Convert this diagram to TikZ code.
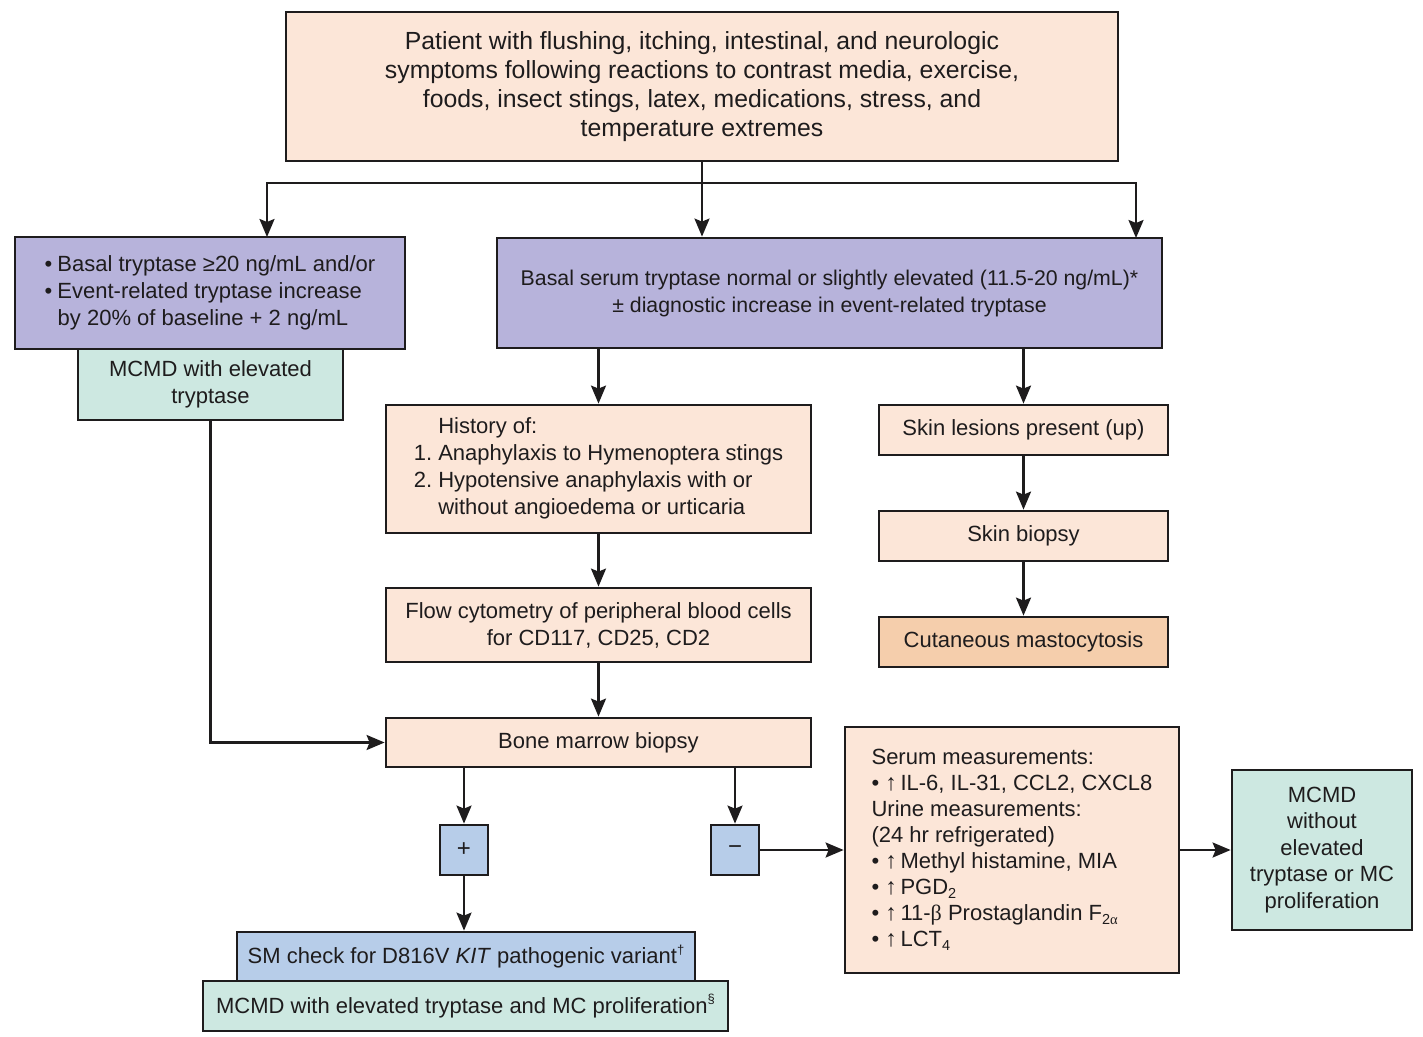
\documentclass[tikz,border=0pt]{standalone}
\usepackage{fontspec}
\setmainfont{Liberation Sans}
\newfontfamily\grk{Liberation Serif}
\usetikzlibrary{arrows.meta}
\definecolor{peach}{RGB}{252,230,216}
\definecolor{lav}{RGB}{183,179,219}
\definecolor{mint}{RGB}{205,232,225}
\definecolor{sky}{RGB}{183,205,233}
\definecolor{tan}{RGB}{245,206,172}
\definecolor{ink}{RGB}{30,28,29}
\newcommand{\mysub}[1]{\raisebox{-0.35ex}{\fontsize{14.5}{14.5}\selectfont #1}}
\newcommand{\mysup}[1]{\raisebox{0.85ex}{\fontsize{13}{13}\selectfont #1}}
\newcommand{\upar}{{\grk\fontsize{23}{26}\selectfont ↑}}
\tikzset{
  box/.style={draw=ink, line width=2.8pt, inner sep=0pt, align=center, text=ink,
    font=\fontsize{22}{27}\selectfont},
  sign/.style={box, fill=sky, minimum width=48pt, minimum height=50pt, font=\fontsize{24}{26}\selectfont},
  arr/.style={draw=ink, line width=2.3pt, -{Stealth[length=18pt,width=15pt,inset=3pt]}},
}
\begin{document}
\begin{tikzpicture}[x=1pt,y=-1pt]
\useasboundingbox (0,0) rectangle (1423,1036);
\fill[white] (0,0) rectangle (1423,1036);

\node[box, fill=peach, minimum width=832pt, minimum height=149pt, font=\fontsize{24.8}{29}\selectfont] (top) at (702,86.5)
 {Patient with flushing, itching, intestinal, and neurologic\\
  symptoms following reactions to contrast media, exercise,\\
  foods, insect stings, latex, medications, stress, and\\
  temperature extremes};

\node[box, fill=lav, minimum width=390pt, minimum height=112pt] (lp) at (210,293)
 {\begin{tabular}{@{}l@{\hspace{5pt}}l@{}}
  • & Basal tryptase ≥20 ng/mL and/or\\
  • & Event-related tryptase increase\\
  \multicolumn{2}{@{}l@{}}{\hspace{13pt}by 20\% of baseline + 2 ng/mL}
  \end{tabular}};

\node[box, fill=mint, minimum width=265pt, minimum height=71pt] (lg) at (210.5,384.5)
 {MCMD with elevated\\tryptase};

\node[box, fill=lav, minimum width=665pt, minimum height=110pt, font=\fontsize{21.3}{27}\selectfont] (bp) at (829.5,293)
 {Basal serum tryptase normal or slightly elevated (11.5-20 ng/mL)*\\
  ± diagnostic increase in event-related tryptase};

\node[box, fill=peach, minimum width=425pt, minimum height=128pt] (hist) at (598.5,469)
 {\begin{tabular}{@{}r@{\ }l@{}}
  & History of:\\
  1. & Anaphylaxis to Hymenoptera stings\\
  2. & Hypotensive anaphylaxis with or\\
  & without angioedema or urticaria
  \end{tabular}};

\node[box, fill=peach, minimum width=425pt, minimum height=74pt] (flow) at (598.5,625)
 {Flow cytometry of peripheral blood cells\\for CD117, CD25, CD2};

\node[box, fill=peach, minimum width=425pt, minimum height=49pt] (bone) at (598.5,742.5)
 {Bone marrow biopsy};

\node[box, fill=peach, minimum width=289pt, minimum height=50pt] (skin1) at (1023.5,430)
 {Skin lesions present (up)};
\node[box, fill=peach, minimum width=289pt, minimum height=50pt] (skin2) at (1023.5,536)
 {Skin biopsy};
\node[box, fill=tan, minimum width=289pt, minimum height=50pt] (cut) at (1023.5,642)
 {Cutaneous mastocytosis};

\node[sign] (plus) at (464,850) {+};
\node[sign] (minus) at (735,850) {−};

\node[box, fill=sky, minimum width=458pt, minimum height=49pt] (sm) at (466,956.5)
 {SM check for D816V \textit{KIT} pathogenic variant\mysup{†}};
\node[box, fill=mint, minimum width=525pt, minimum height=50pt] (mcb) at (465.5,1006)
 {MCMD with elevated tryptase and MC proliferation\mysup{§}};

\node[box, fill=peach, minimum width=334pt, minimum height=246pt, align=left, font=\fontsize{22}{26}\selectfont] (serum) at (1012,850)
 {Serum measurements:\\
  • \upar\,IL-6, IL-31, CCL2, CXCL8\\
  Urine measurements:\\
  (24 hr refrigerated)\\
  • \upar\,Methyl histamine, MIA\\
  • \upar\,PGD\mysub{2}\\
  • \upar\,11-{\grk β} Prostaglandin F\mysub{2{\grk α}}\\
  • \upar\,LCT\mysub{4}};

\node[box, fill=mint, minimum width=180pt, minimum height=160pt, font=\fontsize{22}{26.5}\selectfont] (mcr) at (1322,850)
 {MCMD\\without\\elevated\\tryptase or MC\\proliferation};

% connectors
\coordinate (bj) at (702,183);
\draw[arr] (top.south) -- (bj |- bp.north);
\draw[arr] (bj) -| (267,237);
\draw[arr] (bj) -| (1136,238);

\draw[arr] (bp.south -| hist.north) -- (hist.north);
\draw[arr] (bp.south -| skin1.north) -- (skin1.north);
\draw[arr] (hist) -- (flow);
\draw[arr] (flow) -- (bone);
\draw[arr] (skin1) -- (skin2);
\draw[arr] (skin2) -- (cut);
\draw[arr] (lg.south) |- (bone.west);
\draw[arr] (bone.south -| plus.north) -- (plus.north);
\draw[arr] (bone.south -| minus.north) -- (minus.north);
\draw[arr] (plus.south) -- (plus.south |- sm.north);
\draw[arr] (minus.east) -- (serum.west);
\draw[arr] (serum.east) -- (mcr.west);
\end{tikzpicture}
\end{document}
